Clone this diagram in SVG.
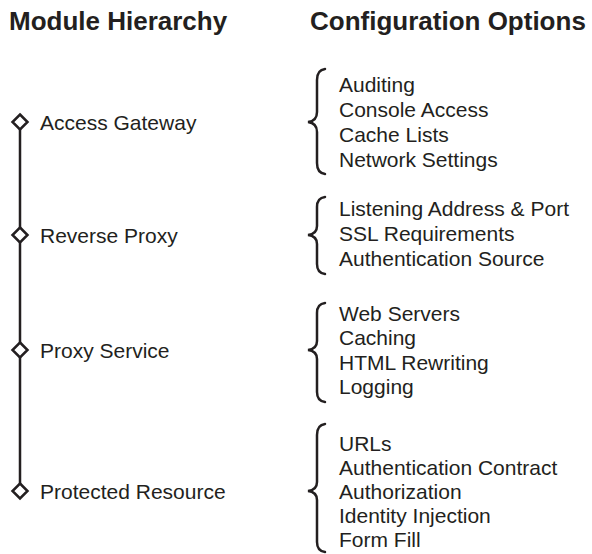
<svg xmlns="http://www.w3.org/2000/svg" width="592" height="554" viewBox="0 0 592 554">
<style>
.title{font-family:"Liberation Sans",Arial,sans-serif;font-weight:bold;font-size:26px;fill:#231f20}
.lbl{font-family:"Liberation Sans",Arial,sans-serif;font-size:21px;fill:#231f20}
.line{stroke:#231f20;stroke-width:2.5;fill:none}
.dia{stroke:#231f20;stroke-width:2.5;fill:#ffffff}
.brace{stroke:#231f20;stroke-width:2.5;fill:none;stroke-linecap:round}
</style>
<rect width="592" height="554" fill="#ffffff"/>
<text class="title" x="9" y="30">Module Hierarchy</text>
<text class="title" x="310" y="30">Configuration Options</text>
<g id="connectors">
<line class="line" x1="20" y1="122" x2="20" y2="491"/>
</g>
<g id="access-gateway">
<path class="dia" d="M20 114.5 L27.5 122 L20 129.5 L12.5 122 Z"/>
<text class="lbl" x="40" y="130">Access Gateway</text>
</g>
<g id="reverse-proxy">
<path class="dia" d="M20 227.5 L27.5 235 L20 242.5 L12.5 235 Z"/>
<text class="lbl" x="40" y="243">Reverse Proxy</text>
</g>
<g id="proxy-service">
<path class="dia" d="M20 342.5 L27.5 350 L20 357.5 L12.5 350 Z"/>
<text class="lbl" x="40" y="358">Proxy Service</text>
</g>
<g id="protected-resource">
<path class="dia" d="M20 483.5 L27.5 491 L20 498.5 L12.5 491 Z"/>
<text class="lbl" x="40" y="499">Protected Resource</text>
</g>
<g id="options-access-gateway">
<path class="brace" d="M325 69 Q317 70 317 80 L317 112 Q317 121 308 122 Q317 123 317 132 L317 163 Q317 173 325 174"/>
<text class="lbl" x="339" y="92">Auditing</text>
<text class="lbl" x="339" y="117">Console Access</text>
<text class="lbl" x="339" y="142">Cache Lists</text>
<text class="lbl" x="339" y="167">Network Settings</text>
</g>
<g id="options-reverse-proxy">
<path class="brace" d="M325 197 Q317 198 317 207 L317 226 Q317 234 308 235 Q317 236 317 244 L317 264 Q317 273 325 274"/>
<text class="lbl" x="339" y="216">Listening Address &amp; Port</text>
<text class="lbl" x="339" y="241">SSL Requirements</text>
<text class="lbl" x="339" y="266">Authentication Source</text>
</g>
<g id="options-proxy-service">
<path class="brace" d="M325 303 Q317 304 317 313 L317 341 Q317 349 308 350 Q317 351 317 359 L317 392 Q317 401 325 402"/>
<text class="lbl" x="339" y="321">Web Servers</text>
<text class="lbl" x="339" y="345">Caching</text>
<text class="lbl" x="339" y="370">HTML Rewriting</text>
<text class="lbl" x="339" y="394">Logging</text>
</g>
<g id="options-protected-resource">
<path class="brace" d="M325 424 Q317 425 317 435 L317 482 Q317 490 308 491 Q317 492 317 500 L317 542 Q317 551 325 552"/>
<text class="lbl" x="339" y="451">URLs</text>
<text class="lbl" x="339" y="475">Authentication Contract</text>
<text class="lbl" x="339" y="499">Authorization</text>
<text class="lbl" x="339" y="523">Identity Injection</text>
<text class="lbl" x="339" y="547">Form Fill</text>
</g>
</svg>
